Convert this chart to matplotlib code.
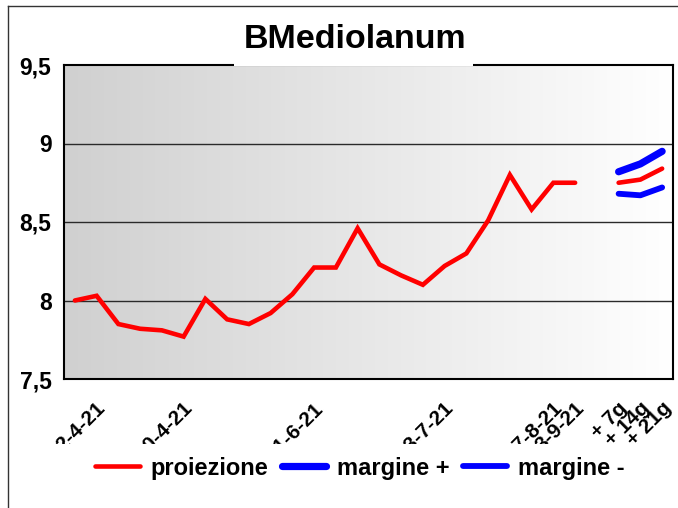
import numpy as np
import matplotlib
matplotlib.use("Agg")
import matplotlib.pyplot as plt
from matplotlib.colors import LinearSegmentedColormap
from matplotlib.lines import Line2D
from matplotlib.patches import Rectangle
from matplotlib.transforms import Bbox, ScaledTranslation

# ---------------- data ----------------
title = "BMediolanum"
n_categories = 28
storico = [8.00, 8.03, 7.85, 7.82, 7.81, 7.77, 8.01, 7.88, 7.85, 7.92, 8.04, 8.21,
           8.21, 8.46, 8.23, 8.16, 8.10, 8.22, 8.30, 8.51, 8.80, 8.58, 8.75, 8.75]
proiezione_fut = [8.75, 8.77, 8.84]
margine_piu = [8.82, 8.87, 8.95]
margine_meno = [8.68, 8.67, 8.72]
future_idx = [25, 26, 27]
tick_idx = [1, 5, 11, 17, 22, 23, 25, 26, 27]
tick_labels = ["2-4-21", "30-4-21", "11-6-21", "23-7-21", "27-8-21", "3-9-21",
               "+ 7g", "+ 14g", "+ 21g"]
y_ticks = [7.5, 8, 8.5, 9, 9.5]
y_tick_labels = ["7,5", "8", "8,5", "9", "9,5"]

# build series
x = np.arange(n_categories)
proiezione = np.full(n_categories, np.nan)
proiezione[:len(storico)] = storico
proiezione[future_idx] = proiezione_fut
mplus = np.full(n_categories, np.nan)
mplus[future_idx] = margine_piu
mminus = np.full(n_categories, np.nan)
mminus[future_idx] = margine_meno

plt.rcParams['font.family'] = ['Liberation Sans', 'DejaVu Sans']
plt.rcParams['font.weight'] = 'bold'

W, H = 678, 508
fig = plt.figure(figsize=(W / 100, H / 100), dpi=100)
ax = fig.add_axes([64 / W, (H - 379) / H, 609 / W, 314 / H])

# gradient background
cmap = LinearSegmentedColormap.from_list("g", ["#d0d0d0", "#ffffff"])
grad = np.linspace(0, 1, 256).reshape(1, -1)
ax.imshow(grad, cmap=cmap, aspect='auto', extent=[0, 1, 0, 1],
          transform=ax.transAxes, zorder=0)

ax.set_xlim(-0.5, n_categories - 0.5)
ax.set_ylim(7.5, 9.5)

for yv in y_ticks[1:-1]:
    ax.axhline(yv, color='#2a2a2a', lw=1.0, zorder=1)

ax.plot(x, proiezione, color='#ff0000', lw=3.3, solid_capstyle='round',
        solid_joinstyle='miter', zorder=3, label='proiezione')
ax.plot(x, mplus, color='#0000ff', lw=5.2, solid_capstyle='round', zorder=3,
        label='margine +')
ax.plot(x, mminus, color='#0000ff', lw=4.2, solid_capstyle='round', zorder=3,
        label='margine -')

for s in ax.spines.values():
    s.set_color('black')
    s.set_linewidth(1.5)

ax.set_yticks(y_ticks)
ax.set_yticklabels(y_tick_labels, fontsize=16.5, fontweight='bold')
ax.tick_params(axis='y', length=0, pad=9)

ax.set_xticks(tick_idx)
labels = ax.set_xticklabels(tick_labels, fontsize=15, fontweight='bold',
                            rotation=45, ha='right', va='center',
                            rotation_mode='anchor')
ax.tick_params(axis='x', length=0, pad=19)
clip = Bbox.from_extents(0, H - 444, W, H)
offset = ScaledTranslation(6 / 100, 0, fig.dpi_scale_trans)
for lab in labels:
    lab.set_transform(lab.get_transform() + offset)
    lab.set_clip_box(clip)
    lab.set_clip_on(True)

# legend
fig.legend(loc='center', bbox_to_anchor=(360 / W, 1 - 468 / H), ncol=3,
           frameon=False, prop={'size': 17, 'weight': 'bold'},
           handlelength=1.9, handletextpad=0.45, columnspacing=0.55)

# title with white box covering top border
fig.add_artist(Rectangle((234 / W, 1 - 66 / H), (473 - 234) / W, 50 / H,
                         transform=fig.transFigure, facecolor='white',
                         edgecolor='none', zorder=5))
fig.text(355 / W, 1 - 40 / H, title, ha='center', va='center',
         fontsize=24.5, fontweight='bold', zorder=6)

# outer chart frame (partially visible)
fig.add_artist(Line2D([8 / W, 8 / W], [0, 1 - 6 / H], color='#333333', lw=1.0,
                      transform=fig.transFigure))
fig.add_artist(Line2D([8 / W, 1], [1 - 6 / H, 1 - 6 / H], color='#333333',
                      lw=1.0, transform=fig.transFigure))

fig.savefig("out.png", dpi=100)
